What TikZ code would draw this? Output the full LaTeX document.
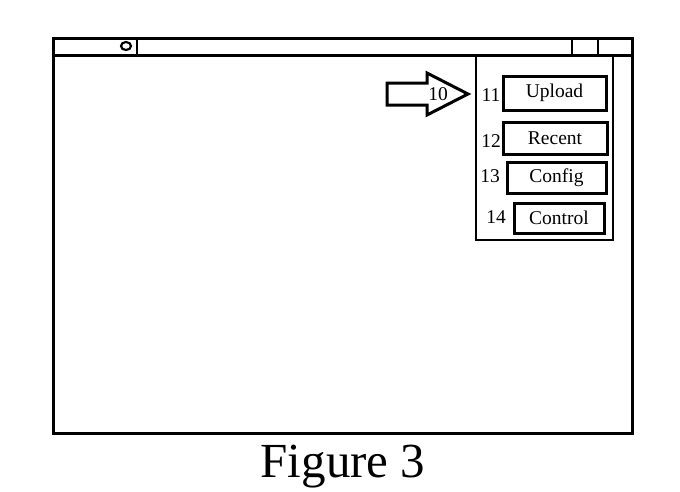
\documentclass[tikz,border=0pt]{standalone}
\usepackage{fontspec}
\setmainfont{Liberation Serif}
\begin{document}
\begin{tikzpicture}[x=1pt,y=-1pt]
    \tikzset{btn/.style={draw,line width=3pt,inner sep=0pt,font=\fontsize{19.5}{22}\selectfont},
             num/.style={inner sep=0pt,font=\fontsize{19.5}{22}\selectfont}};
    \useasboundingbox (0,0) rectangle (680,491);
    % window and title bar
    \draw[line width=3pt] (53,38) rectangle (632,433);
    \draw[line width=3pt] (53,55) -- (632,55);
    \draw[line width=2.5pt] (137,38) -- (137,55);
    \draw[line width=2.2pt] (126,46) ellipse (5 and 4);
    \draw[line width=2.5pt] (572,38) rectangle (598,55);
    % menu panel
    \draw[line width=2.5pt] (476,55) rectangle (613,240);
    \node[btn,minimum width=103pt,minimum height=34pt] (upload) at (554.5,93) {Upload};
    \node[btn,minimum width=104pt,minimum height=32pt] (recent) at (555,138) {Recent};
    \node[btn,minimum width=99pt,minimum height=31pt] (config) at (556.5,177.5) {Config};
    \node[btn,minimum width=90pt,minimum height=30pt] (control) at (559,218) {Control};
    \node[num] (n11) at (491,95) {11};
    \node[num] (n12) at (491,141) {12};
    \node[num] (n13) at (490,176) {13};
    \node[num] (n14) at (496,217) {14};
    % pointer arrow
    \draw[line width=3pt,line join=miter] (387,83) -- (427,83) -- (427,73) -- (468,94)
        -- (427,115) -- (427,105) -- (387,105) -- cycle;
    \node[num] (n10) at (438,94) {10};
    % caption
    \node[anchor=base,inner sep=0pt,font=\fontsize{49}{52}\selectfont] (caption) at (343,477) {Figure 3};
\end{tikzpicture}
\end{document}
